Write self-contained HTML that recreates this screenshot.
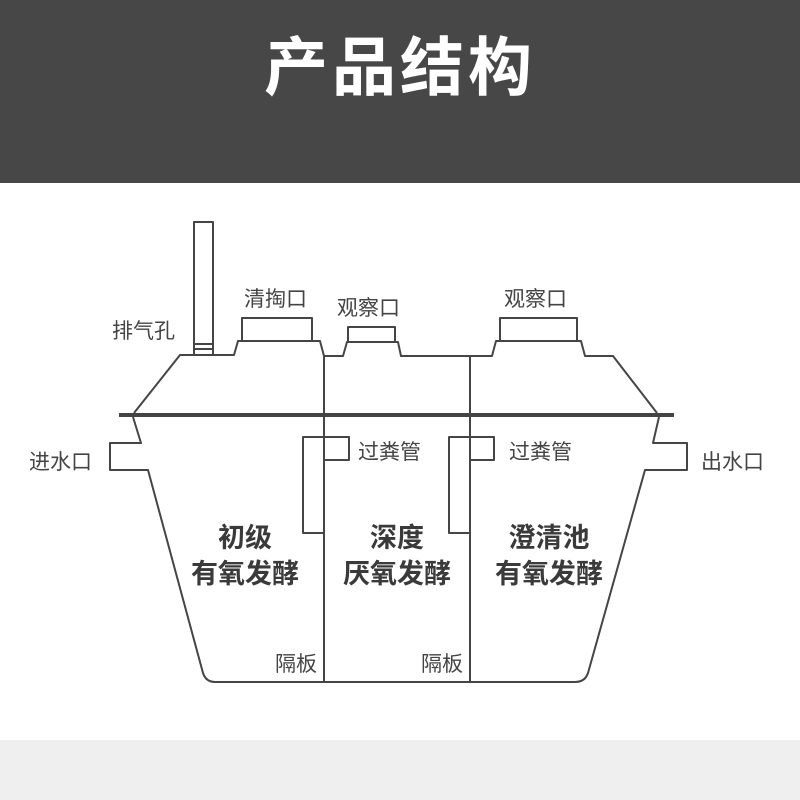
<!DOCTYPE html>
<html><head><meta charset="utf-8"><style>
html,body{margin:0;padding:0;}
body{width:800px;height:800px;position:relative;background:#fff;overflow:hidden;font-family:"Liberation Sans","Noto Sans CJK SC",sans-serif;}
.hd{position:absolute;left:0;top:0;width:800px;height:183px;background:#474747;}
.hd div{position:absolute;left:0;width:800px;top:28px;text-align:center;color:#fff;font-size:64px;font-weight:bold;letter-spacing:4px;line-height:80px;}
.ft{position:absolute;left:0;top:740px;width:800px;height:60px;background:#efefef;}
svg{position:absolute;left:0;top:0;}
</style></head><body>
<div class="hd"><div>产品结构</div></div>
<div class="ft"></div>
<svg width="800" height="800" viewBox="0 0 800 800">
<g fill="none" stroke="#454545" stroke-width="2" stroke-linejoin="round">
<rect x="194" y="222" width="19" height="133" fill="#fff"/>
<line x1="194" y1="344" x2="213" y2="344"/><line x1="194" y1="349" x2="213" y2="349"/>
<path d="M134,413 L180,355 L194,355 M213,355 L234,355 L238,341 L320,341 L324,356 L343,356 L347,342 L398,342 L401,356 L492,356 L496,341 L581,341 L585,356 L613,356 L657,413"/>
<rect x="242" y="318" width="70" height="23"/>
<rect x="348" y="327" width="47" height="15"/>
<rect x="500" y="318" width="77" height="23"/>
<line x1="324" y1="356" x2="324" y2="682"/>
<line x1="470" y1="356" x2="470" y2="682"/>
<path d="M133,417 L141,443 L110,443 L110,470 L148,470 L203,673 Q206,682 215,682 L575,682 Q585,682 588,673 L645,470 L687,470 L687,443 L653,443 L659,417"/>
<path d="M324,460 L349,460 L349,437 L303,437 L303,533 L324,533"/>
<path d="M470,460 L494,460 L494,437 L449,437 L449,533 L470,533"/>
</g>
<line x1="119" y1="415" x2="674" y2="415" stroke="#444" stroke-width="4"/>
<g fill="#444" font-family="Liberation Sans, Noto Sans CJK SC, sans-serif" font-size="21">
<text x="112" y="338">排气孔</text>
<text x="244" y="306">清掏口</text>
<text x="337" y="315">观察口</text>
<text x="504" y="306">观察口</text>
<text x="358" y="459">过粪管</text>
<text x="509" y="459">过粪管</text>
<text x="29" y="469">进水口</text>
<text x="701" y="469">出水口</text>
<text x="275" y="671">隔板</text>
<text x="421" y="671">隔板</text>
</g>
<g fill="#3a3a3a" font-family="Liberation Sans, Noto Sans CJK SC, sans-serif" font-size="27" font-weight="bold" text-anchor="middle">
<text x="245" y="547">初级</text>
<text x="245" y="583">有氧发酵</text>
<text x="397" y="547">深度</text>
<text x="397" y="583">厌氧发酵</text>
<text x="549" y="547">澄清池</text>
<text x="549" y="583">有氧发酵</text>
</g>
</svg>
</body></html>
